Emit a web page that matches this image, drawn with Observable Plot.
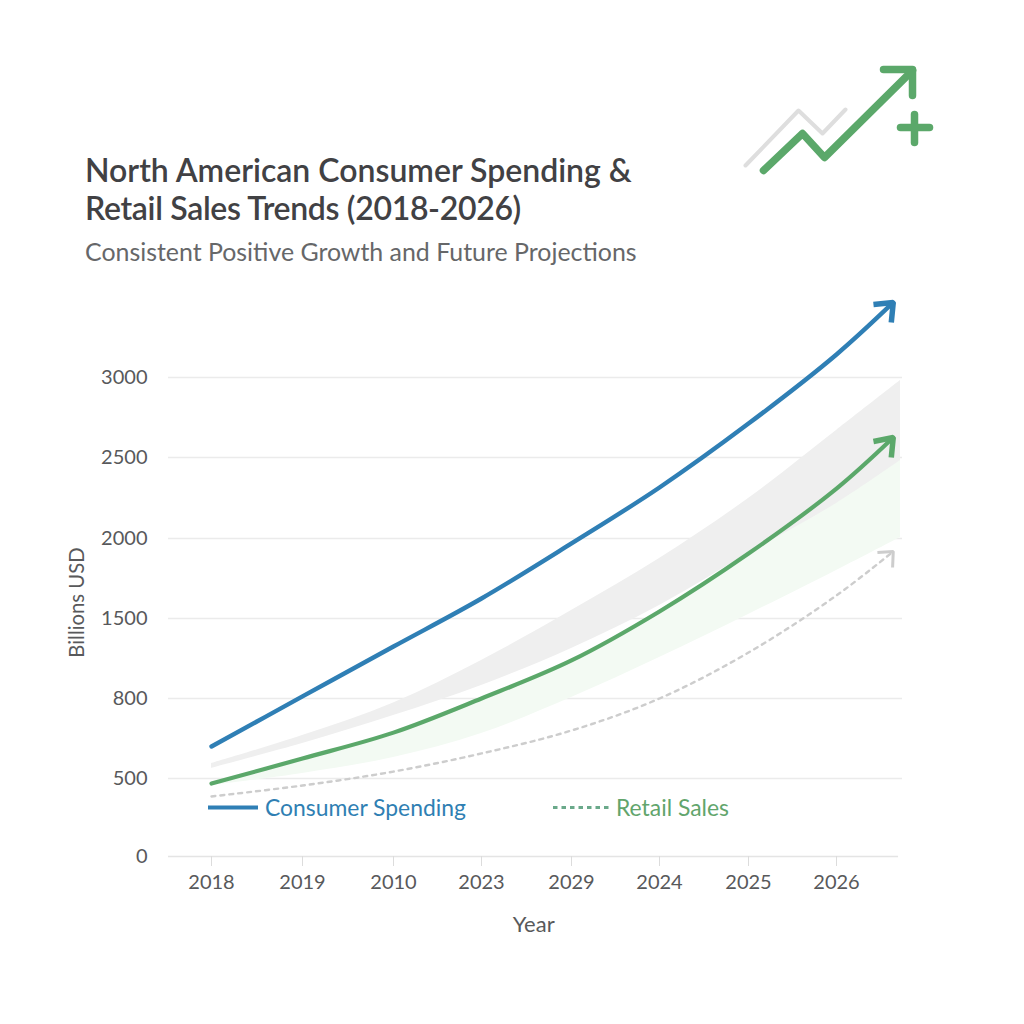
<!DOCTYPE html>
<html>
<head>
<meta charset="utf-8">
<script src="https://cdn.jsdelivr.net/npm/d3@7"></script>
<script src="https://cdn.jsdelivr.net/npm/@observablehq/plot@0.6"></script>
<style>
html,body{margin:0;padding:0;background:#fff;font-family:Lato,sans-serif}
#page{position:relative;width:1024px;height:1024px;overflow:hidden}
#head{position:relative;height:280px}
#title{position:absolute;left:85px;top:151px;margin:0;font-size:32px;line-height:38px;font-weight:600;color:#414144;white-space:nowrap}
#title span{letter-spacing:-0.33px}
#sub{position:absolute;left:85px;top:236px;margin:0;font-size:24.9px;line-height:30px;font-weight:400;color:#666769;white-space:nowrap}
#icon{position:absolute;left:700px;top:40px}
#chart svg,#icon svg{display:block}
.lg{position:absolute;top:794px;font-size:22.9px;line-height:26px;white-space:nowrap}
</style>
</head>
<body>
<div id="page">
  <div id="head">
    <h1 id="title">North American Consumer Spending &amp;<br><span>Retail Sales Trends (2018-2026)</span></h1>
    <p id="sub">Consistent Positive Growth and Future Projections</p>
    <div id="icon"></div>
  </div>
  <div id="chart"></div>
  <div class="lg" id="lg1" style="left:265px;color:#2f7fb3">Consumer Spending</div>
  <div class="lg" id="lg2" style="left:616px;color:#62a56c">Retail Sales</div>
</div>
<script>
// ---- data ----
const xLabels = ["2018","2019","2010","2023","2029","2024","2025","2026"];
const xSteps  = [0,1,2,3,4,5,6,7];
const yTicks  = [0,500,800,1500,2000,2500,3000];

const lineX    = [0,1,2,3,4,5,6,7,7.86];
const spending = [620,818,1255,1625,1969,2315,2712,3144,3469];
const retail   = [468,575,672,800,1133,1544,1906,2308,2625];
const dotted   = [385,455,526,594,680,800,1202,1644,1919];

const bandX      = [0,1,2,3,4,5,6,7,7.97];
const greyTop    = [556,661,783,1133,1550,1875,2247,2669,2981];
const greyBottom = [538,631,736,914,1238,1581,1906,2216,2481];
const greenFloor = [455,519,579,669,809,1159,1525,1800,2006];
const greenRoof  = [468,575,672,800,1133,1544,1906,2308,2640];

// arrowhead arms: [left end x, left end y, tip x, tip y, lower end x, lower end y]
const spendingHead = [7.56,3456,7.86,3469,7.83,3344];
const retailHead   = [7.56,2600,7.86,2625,7.83,2500];
const dottedHead   = [7.62,1912,7.86,1919,7.85,1819];

// header icon, in its own 260x160 space
const iconGreenX = [63,102,124,212], iconGreenY = [130,93,117,30];
const iconArmX   = [183,212,212],    iconArmY   = [29,29,55];
const iconGreyX  = [45,98,122,145],  iconGreyY  = [125,70,93,69];
const iconPlusHX = [200,229], iconPlusHY = [87,87];
const iconPlusVX = [214,214], iconPlusVY = [74,102];

// ---- colours ----
const BLUE="#2f7fb5", GREEN="#5ba86a", GREY="#cdcdcd", GRID="#ebebeb";

const zip = (xs,ys)=>xs.map((x,i)=>({x,y:ys[i]}));
const head = h=>[{x:h[0],y:h[1]},{x:h[2],y:h[3]},{x:h[4],y:h[5]}];
const band = bandX.map((x,i)=>({x,t:greyTop[i],b:greyBottom[i],g:greenRoof[i],f:greenFloor[i]}));
const CURVE="catmull-rom";

const headMark=(h,stroke,w)=>Plot.line(head(h),{x:"x",y:"y",stroke,strokeWidth:w,strokeLinecap:"butt",strokeLinejoin:"miter"});

const chart = Plot.plot({
  width:1024, height:680,
  marginLeft:168, marginRight:122, marginTop:17, marginBottom:104,
  style:{fontFamily:"Lato, sans-serif",background:"transparent"},
  x:{type:"linear",domain:[-0.5,0,1,2,3,4,5,6,7,8],range:[168,211,302,393,481,571,659,748,836,902]},
  y:{type:"linear",domain:[0,500,800,1500,2000,2500,3000,3500],range:[576,498,418,338,258,177,97,17]},
  marks:[
    Plot.ruleY(yTicks.slice(1),{x1:-0.5,x2:8,stroke:GRID,strokeWidth:1.5}),
    Plot.ruleY([0],{x1:-0.5,x2:7.94,stroke:"#e4e4e4",strokeWidth:1.5}),
    Plot.areaY(band,{x:"x",y1:"f",y2:"g",fill:"#f3faf3",curve:CURVE}),
    Plot.areaY(band,{x:"x",y1:"b",y2:"t",fill:"#efefef",curve:CURVE}),
    Plot.axisX({ticks:xSteps,tickFormat:i=>xLabels[i],tickSize:10,tickPadding:8,fontSize:20,stroke:"#dcdcdc",fill:"#58595b",label:null}),
    Plot.axisY({ticks:yTicks,tickFormat:d=>String(d),tickSize:0,tickPadding:21,fontSize:20,fill:"#58595b",label:null}),
    Plot.line(zip(lineX,dotted),{x:"x",y:"y",stroke:GREY,strokeWidth:2.4,strokeDasharray:"4 5",curve:CURVE}),
    headMark(dottedHead,GREY,3),
    Plot.line(zip(lineX,retail),{x:"x",y:"y",stroke:GREEN,strokeWidth:4.2,strokeLinecap:"round",curve:CURVE}),
    headMark(retailHead,GREEN,5.5),
    Plot.line(zip(lineX,spending),{x:"x",y:"y",stroke:BLUE,strokeWidth:4.4,strokeLinecap:"round",curve:CURVE}),
    headMark(spendingHead,BLUE,5.5),
    Plot.text(["Billions USD"],{x:-1.56,y:1600,rotate:-90,fontSize:20.3,fill:"#58595b"}),
    Plot.text(["Year"],{x:3.58,y:-436,fontSize:22,fill:"#58595b"})
  ]
});
document.getElementById("chart").append(chart);

const icon = Plot.plot({
  width:260,height:160,margin:0,
  x:{domain:[0,260],range:[0,260],axis:null},
  y:{domain:[0,160],range:[0,160],axis:null},
  marks:[
    Plot.line(zip(iconGreyX,iconGreyY),{x:"x",y:"y",stroke:"#dedede",strokeWidth:4,strokeLinecap:"round",strokeLinejoin:"round"}),
    Plot.line(zip(iconGreenX,iconGreenY),{x:"x",y:"y",stroke:GREEN,strokeWidth:7.5,strokeLinecap:"round",strokeLinejoin:"round"}),
    Plot.line(zip(iconArmX,iconArmY),{x:"x",y:"y",stroke:GREEN,strokeWidth:7.5,strokeLinecap:"round",strokeLinejoin:"round"}),
    Plot.line(zip(iconPlusHX,iconPlusHY),{x:"x",y:"y",stroke:GREEN,strokeWidth:7.5,strokeLinecap:"round"}),
    Plot.line(zip(iconPlusVX,iconPlusVY),{x:"x",y:"y",stroke:GREEN,strokeWidth:7.5,strokeLinecap:"round"})
  ]
});
document.getElementById("icon").append(icon);

// legend swatches
function swatch(id,stroke,w,dash,left,len){
  const s=Plot.plot({width:len,height:12,margin:0,style:{overflow:"visible",background:"transparent"},
    x:{domain:[0,1],range:[0,len],axis:null},y:{domain:[0,1],range:[12,0],axis:null},
    marks:[Plot.ruleY([0.5],{x1:0,x2:1,stroke,strokeWidth:w,strokeDasharray:dash})]});
  s.style.position="absolute";s.style.left=left+"px";s.style.top="7px";
  document.getElementById(id).append(s);
}
swatch("lg1",BLUE,4.2,null,-57,50);
swatch("lg2","#6aa98a",2.8,"4.5 4",-63,57);
</script>
</body>
</html>
